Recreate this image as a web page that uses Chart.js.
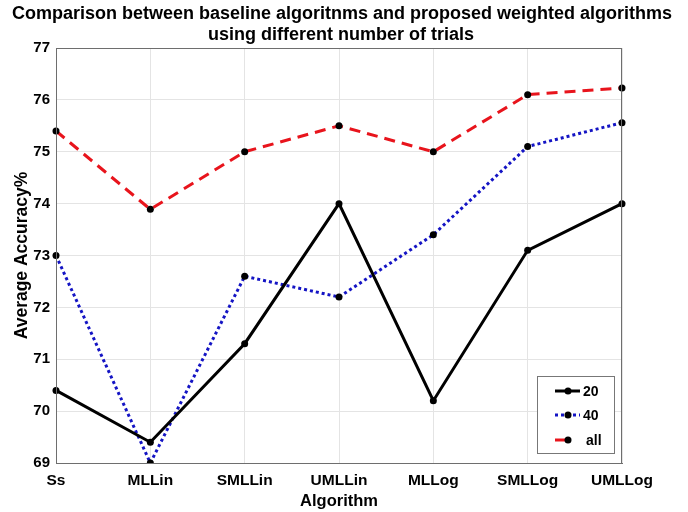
<!DOCTYPE html>
<html>
<head>
<meta charset="utf-8">
<script src="https://cdn.jsdelivr.net/npm/chart.js@4"></script>
<style>
  html, body { margin: 0; padding: 0; background: #fff; }
  #wrap { width: 688px; height: 512px; position: relative; }
</style>
</head>
<body>
<div id="wrap"><canvas id="accChart"></canvas></div>
<script>
// chart values
const algorithms = ['Ss', 'MLLin', 'SMLLin', 'UMLLin', 'MLLog', 'SMLLog', 'UMLLog'];
const trials20 = [70.4, 69.4, 71.3, 74.0, 70.2, 73.1, 74.0];
const trials40 = [73.0, 69.0, 72.6, 72.2, 73.4, 75.1, 75.56];
const trialsAll = [75.4, 73.89, 75.0, 75.5, 75.0, 76.1, 76.23];
const yTicks = [69, 70, 71, 72, 73, 74, 75, 76, 77];

const titleLines = ['Comparison between baseline algoritnms and proposed weighted algorithms', 'using different number of trials'];
const FONT = 'Arial, "Liberation Sans", Helvetica, sans-serif';

// title + frame + legend box drawn on the canvas
const matlabLook = {
  id: 'matlabLook',
  afterDraw(chart) {
    const ctx = chart.ctx;
    const a = chart.chartArea;
    ctx.save();
    // axes frame
    ctx.strokeStyle = '#6e6e6e';
    ctx.lineWidth = 1;
    ctx.strokeRect(a.left + 0.5, a.top + 0.5, a.right - a.left - 1, a.bottom - a.top);

    // title
    ctx.fillStyle = '#000';
    ctx.font = 'bold 18px ' + FONT;
    ctx.textAlign = 'center';
    ctx.textBaseline = 'middle';
    ctx.fillText(titleLines[0], 342, 14);
    ctx.fillText(titleLines[1], 341, 35);

    // legend
    const bx = 537, by = 376, bw = 77, bh = 77;
    ctx.fillStyle = '#fff';
    ctx.fillRect(bx, by, bw, bh);
    ctx.strokeStyle = '#777';
    ctx.strokeRect(bx + 0.5, by + 0.5, bw, bh);
    const rows = [391, 415, 440];
    chart.data.datasets.forEach((ds, i) => {
      const y = rows[i];
      ctx.strokeStyle = ds.borderColor;
      ctx.lineWidth = ds.borderWidth;
      ctx.setLineDash(ds.borderDash || []);
      ctx.beginPath();
      ctx.moveTo(555, y);
      ctx.lineTo(i === 2 ? 568 : 580, y);
      ctx.stroke();
      ctx.setLineDash([]);
      ctx.fillStyle = '#000';
      ctx.beginPath();
      ctx.arc(568, y, 3.5, 0, Math.PI * 2);
      ctx.fill();
      ctx.font = 'bold 14px ' + FONT;
      ctx.textAlign = 'left';
      ctx.fillText(ds.label, i === 2 ? 586 : 583, y + 1);
    });
    ctx.restore();
  }
};

const pointStyle = { pointRadius: 3.5, pointBorderWidth: 0, pointBackgroundColor: '#000', pointBorderColor: '#000', tension: 0 };

new Chart(document.getElementById('accChart').getContext('2d'), {
  type: 'line',
  data: {
    labels: algorithms,
    datasets: [
      { label: '20', data: trials20, borderColor: '#000000', borderWidth: 3, ...pointStyle },
      { label: '40', data: trials40, borderColor: '#1414c4', borderWidth: 3, borderDash: [3, 3], ...pointStyle },
      { label: 'all', data: trialsAll, borderColor: '#e8141c', borderWidth: 3, borderDash: [11, 7], ...pointStyle }
    ]
  },
  options: {
    responsive: true,
    maintainAspectRatio: false,
    animation: false,
    layout: { padding: { left: 0, top: 48, right: 66, bottom: 0 } },
    plugins: { legend: { display: false }, title: { display: false }, tooltip: { enabled: false } },
    scales: {
      x: {
        offset: false,
        grid: { color: '#e4e4e4', drawTicks: false },
        border: { color: '#6e6e6e' },
        ticks: { color: '#000', padding: 8, maxRotation: 0, font: { family: FONT, size: 15.5, weight: 'bold' } },
        title: { display: true, text: 'Algorithm', color: '#000', padding: { top: 0, bottom: 1 }, font: { family: FONT, size: 16.5, weight: 'bold' } },
        afterFit(scale) { scale.height = 49; }
      },
      y: {
        min: 69,
        max: 77,
        afterBuildTicks(scale) { scale.ticks = yTicks.map(v => ({ value: v })); },
        grid: { color: '#e4e4e4', drawTicks: false },
        border: { color: '#6e6e6e' },
        ticks: { color: '#000', padding: 6, font: { family: FONT, size: 15, weight: 'bold' } },
        title: { display: true, text: 'Average Accuracy%', color: '#000', padding: { top: 12, bottom: 0 }, font: { family: FONT, size: 17.5, weight: 'bold' } },
        afterFit(scale) { scale.width = 56; }
      }
    }
  },
  plugins: [matlabLook]
});
</script>
</body>
</html>
